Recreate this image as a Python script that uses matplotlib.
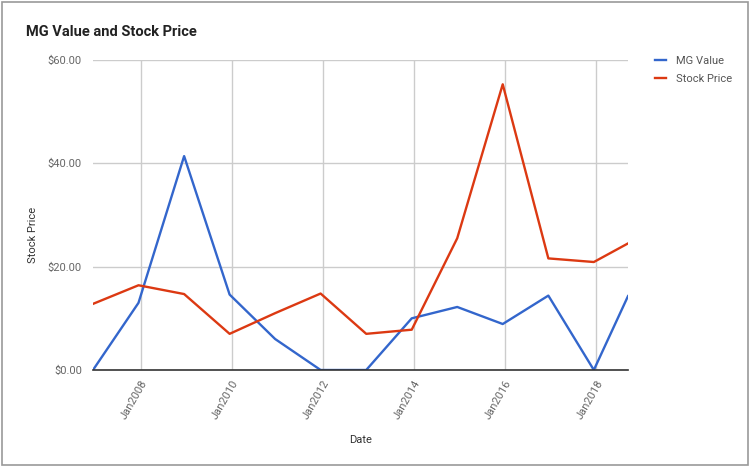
import numpy as np
import pandas as pd
import matplotlib
matplotlib.use("Agg")
import matplotlib.pyplot as plt
import matplotlib.dates as mdates
from matplotlib.patches import Rectangle

plt.rcParams["font.family"] = ["Roboto", "DejaVu Sans"]

# data
dates = pd.to_datetime([
    "2006-12-15", "2007-12-15", "2008-12-15", "2009-12-15", "2010-12-15",
    "2011-12-15", "2012-12-15", "2013-12-15", "2014-12-15", "2015-12-15",
    "2016-12-15", "2017-12-15", "2018-09-15",
])
mg_value = [0.0, 13.0, 41.4, 14.6, 6.0, 0.0, 0.0, 10.0, 12.2, 8.9, 14.4, 0.0, 14.3]
stock_price = [12.8, 16.4, 14.7, 7.0, 11.0, 14.8, 7.0, 7.8, 25.5, 55.3, 21.6, 20.9, 24.5]
y_ticks = [0, 20, 40, 60]
x_tick_years = [2008, 2010, 2012, 2014, 2016, 2018]

fig = plt.figure(figsize=(7.54, 4.71), dpi=100)
ax = fig.add_axes([93 / 754, 1 - 370 / 471, 535 / 754, 310 / 471])

ax.plot(dates, mg_value, color="#3366cc", lw=1.7, label="MG Value", zorder=3)
ax.plot(dates, stock_price, color="#dc3912", lw=1.7, label="Stock Price", zorder=3)

ax.set_xlim(dates[0], dates[-1])
ax.set_ylim(0, 60)
ax.set_yticks(y_ticks)
ax.set_yticklabels(["${:.2f}".format(v) for v in y_ticks])
xt = pd.to_datetime(["{}-01-01".format(y) for y in x_tick_years])
ax.set_xticks(xt)
ax.set_xticklabels(["Jan{}".format(y) for y in x_tick_years], rotation=60,
                   ha="right", rotation_mode="anchor")

ax.grid(True, color="#cccccc", lw=1)
ax.set_axisbelow(True)
for s in ["top", "right", "left"]:
    ax.spines[s].set_visible(False)
ax.spines["bottom"].set_color("#333333")
ax.spines["bottom"].set_linewidth(1.2)
ax.spines["bottom"].set_zorder(4)
ax.tick_params(axis="both", length=0, labelsize=8, labelcolor="#666666")
ax.tick_params(axis="y", pad=8)
ax.tick_params(axis="x", pad=6)

ax.set_ylabel("Stock Price", fontsize=8, color="#333333")
ax.yaxis.set_label_coords(-0.103, 0.435)
ax.set_xlabel("Date", fontsize=8, color="#333333", labelpad=10)

fig.text(26 / 754, 1 - 32 / 471, "MG Value and Stock Price", fontsize=10.5,
         fontweight="bold", color="#222222", va="center")

leg = fig.legend(loc="upper left", bbox_to_anchor=(645 / 754, 1 - 46 / 471),
                 frameon=False, fontsize=8, handlelength=1.0, handletextpad=0.9,
                 labelspacing=0.75)
for t in leg.get_texts():
    t.set_color("#555555")

fig.patches.append(Rectangle((2 / 754, 1 - 465 / 471), 746 / 754, 463 / 471,
                             transform=fig.transFigure, fill=False,
                             edgecolor="#999999", lw=1.2))

fig.savefig("out.png", dpi=100)
